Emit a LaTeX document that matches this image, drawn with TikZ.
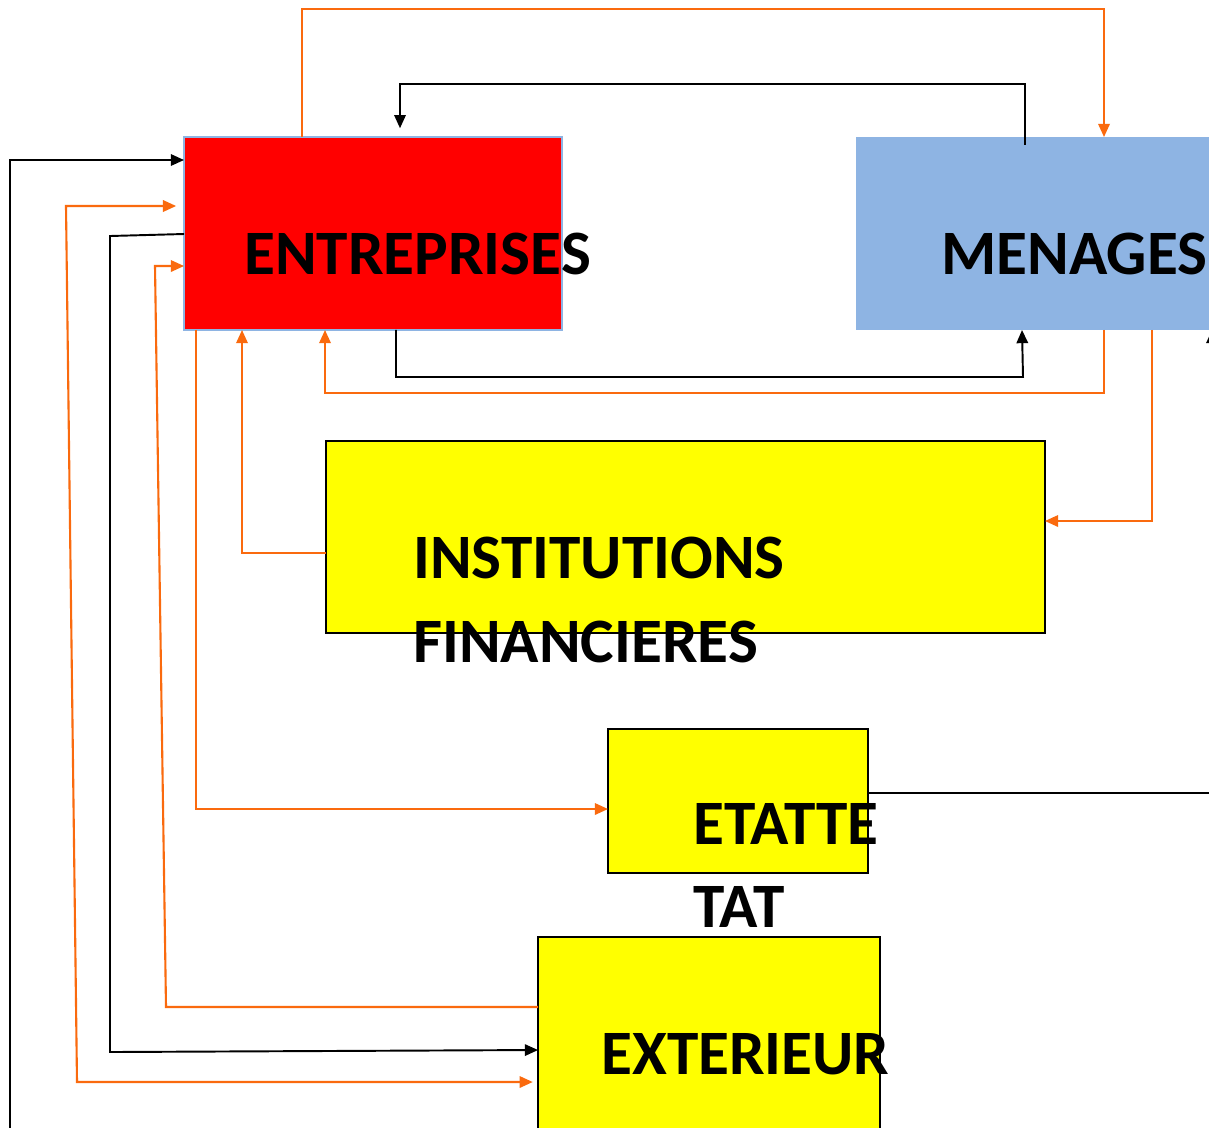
\documentclass[tikz,border=0pt]{standalone}
\usepackage{fontspec}
\setmainfont{Carlito}
\usetikzlibrary{arrows.meta}
\definecolor{orng}{HTML}{FA6A0E}
\definecolor{bleu}{HTML}{8EB4E3}
\definecolor{jaune}{HTML}{FFFF00}

\begin{document}
\begin{tikzpicture}[x=0.02cm, y=-0.02cm,
    box/.style={rectangle, inner sep=0pt, outer sep=0pt},
    lbl/.style={font=\bfseries\fontsize{36}{43}\selectfont, anchor=base west, inner sep=0pt},
    orng/.style={draw=orng, line width=1.2pt, -{Triangle[length=7.5pt,width=6.5pt]}},
    blk/.style={draw=black, line width=1.1pt, -{Triangle[length=7.5pt,width=6.5pt]}}]
  \clip (0,0) rectangle (1209,1127);
  \fill[white] (0,0) rectangle (1209,1127);

  % boxes
  \node[box, fill=red, draw=bleu, line width=0.8pt, minimum width=7.56cm, minimum height=3.86cm] (ent) at (373,233.5) {};
  \node[box, fill=bleu, minimum width=8.08cm, minimum height=3.86cm] (men) at (1058,233.5) {};
  \node[box, fill=jaune, draw=black, line width=1pt, minimum width=14.38cm, minimum height=3.84cm] (inst) at (685.5,537) {};
  \node[box, fill=jaune, draw=black, line width=1pt, minimum width=5.2cm, minimum height=2.88cm] (etat) at (738,801) {};
  \node[box, fill=jaune, draw=black, line width=1pt, minimum width=6.84cm, minimum height=4.12cm] (ext) at (709,1040) {};

  % orange flows
  \draw[orng] (302,0 |- ent.north) -- (302,9) -| (1104,0 |- men.north);
  \draw[orng] (1104,0 |- men.south) -- (1104,393) -| (325,0 |- ent.south);
  \draw[orng] (1152,0 |- men.south) |- (inst.east |- 0,521);
  \draw[orng] (inst.west |- 0,553) -| (242,0 |- ent.south);
  \draw[orng] (196,0 |- ent.south) |- (etat.west |- 0,809);
  \draw[orng] (ext.west |- 0,1007) -- (166,1007) -- (155,266) -- (ent.west |- 0,266);
  \draw[orng, {Triangle[length=7.5pt,width=6.5pt]}-{Triangle[length=7.5pt,width=6.5pt]}, shorten <=3pt, shorten >=4.5pt]
    (ext.west |- 0,1082) -- (77,1082) -- (66,206) -- (ent.west |- 0,206);

  % black flows
  \draw[blk, shorten <=-4.5pt, shorten >=5pt] (1025,0 |- men.north) -- (1025,84) -| (400,0 |- ent.north);
  \draw[blk] (396,0 |- ent.south) -- (396,377) -- (1023,377) -- (1022,0 |- men.south);
  \draw[blk] (ent.west |- 0,234) -- (110,236) -- (110,1052) -- (ext.west |- 0,1050);
  \draw[blk] (10,1140) |- (ent.west |- 0,160);
  \draw[blk, -] (etat.east |- 0,793) -- (1230,793);
  \draw[blk] (1212,420) -- (1212,0 |- men.south);

  % labels
  \node[lbl] (entlbl) at (244,274) {ENTREPRISES};
  \node[lbl] (menlbl) at (941,274) {MENAGES};
  \node[lbl] (instlbla) at (413,578) {INSTITUTIONS};
  \node[lbl] (instlblb) at (413,662) {FINANCIERES};
  \node[lbl] (etatlbla) at (693,844) {ETATTE};
  \node[lbl] (etatlblb) at (693,927) {TAT};
  \node[lbl] (extlbl) at (601,1074) {EXTERIEUR};
\end{tikzpicture}
\end{document}
